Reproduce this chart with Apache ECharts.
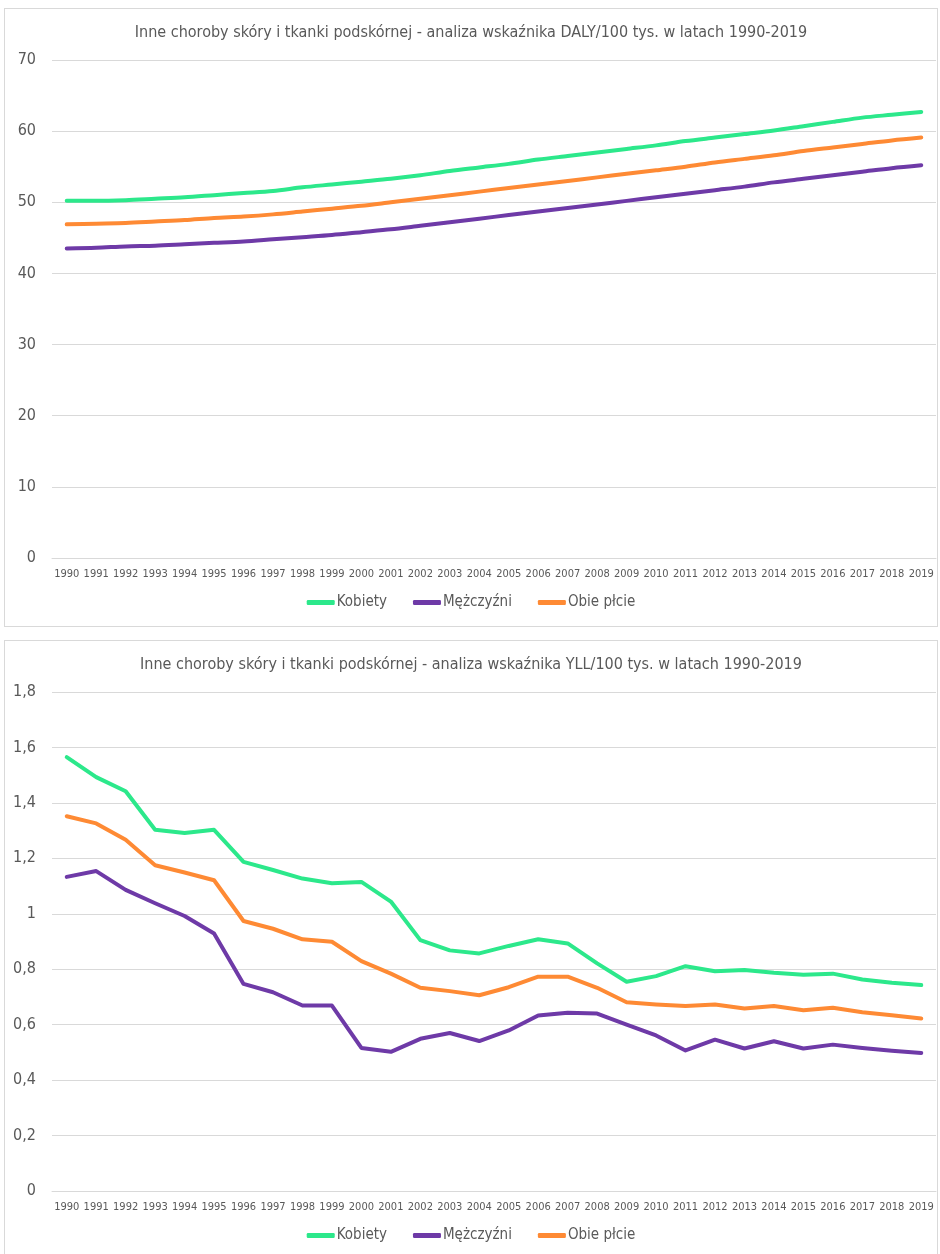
<!DOCTYPE html>
<html>
<head>
<meta charset="utf-8">
<script src="https://cdn.jsdelivr.net/npm/echarts@6/dist/echarts.min.js"></script>
<style>
body { margin: 0; background: #fff; }
.box {
  position: absolute;
  left: 4px;
  width: 934px;
  box-sizing: border-box;
  border: 1px solid #d9d9d9;
  background: #fff;
}
#dalyBox { top: 8px; height: 619px; }
#yllBox { top: 640px; height: 620px; }
</style>
</head>
<body>
<div id="dalyBox" class="box"></div>
<div id="yllBox" class="box"></div>
<script>
// lata
const years = ['1990', '1991', '1992', '1993', '1994', '1995', '1996', '1997', '1998', '1999',
  '2000', '2001', '2002', '2003', '2004', '2005', '2006', '2007', '2008', '2009',
  '2010', '2011', '2012', '2013', '2014', '2015', '2016', '2017', '2018', '2019']

// DALY/100 tys.
const dalyKobiety = [50.2, 50.2, 50.3, 50.5, 50.7, 51.0, 51.3, 51.6, 52.1, 52.5,
  52.9, 53.3, 53.8, 54.4, 54.9, 55.4, 56.0, 56.5, 57.0, 57.5,
  58.0, 58.6, 59.1, 59.6, 60.1, 60.7, 61.3, 61.9, 62.3, 62.7]
const dalyMezczyzni = [43.5, 43.6, 43.8, 43.9, 44.1, 44.3, 44.5, 44.8, 45.1, 45.4,
  45.8, 46.2, 46.7, 47.2, 47.7, 48.2, 48.7, 49.2, 49.7, 50.2,
  50.7, 51.2, 51.7, 52.2, 52.8, 53.3, 53.8, 54.3, 54.8, 55.2]
const dalyObie = [46.9, 47.0, 47.1, 47.3, 47.5, 47.8, 48.0, 48.3, 48.7, 49.1,
  49.5, 50.0, 50.5, 51.0, 51.5, 52.0, 52.5, 53.0, 53.5, 54.0,
  54.5, 55.0, 55.6, 56.1, 56.6, 57.2, 57.7, 58.2, 58.7, 59.1]

// YLL/100 tys.
const yllKobiety = [1.565, 1.493, 1.442, 1.303, 1.291, 1.303, 1.187, 1.158, 1.127, 1.110,
  1.115, 1.044, 0.905, 0.868, 0.857, 0.884, 0.908, 0.893, 0.821, 0.755,
  0.775, 0.811, 0.793, 0.797, 0.787, 0.780, 0.784, 0.763, 0.751, 0.743]
const yllMezczyzni = [1.133, 1.154, 1.086, 1.038, 0.992, 0.929, 0.747, 0.717, 0.669, 0.669,
  0.516, 0.502, 0.549, 0.570, 0.541, 0.579, 0.633, 0.643, 0.640, 0.600,
  0.561, 0.507, 0.546, 0.514, 0.540, 0.514, 0.528, 0.516, 0.506, 0.498]
const yllObie = [1.352, 1.326, 1.267, 1.175, 1.149, 1.121, 0.974, 0.946, 0.908, 0.899,
  0.829, 0.784, 0.733, 0.721, 0.706, 0.735, 0.773, 0.773, 0.733, 0.681,
  0.673, 0.667, 0.673, 0.658, 0.667, 0.652, 0.661, 0.645, 0.634, 0.622]

const seriesNames = ['Kobiety', 'Mężczyźni', 'Obie płcie']
const colors = ['#2ce88b', '#6e3aa7', '#fe8a34']

const font = '"Liberation Sans Narrow", "DejaVu Sans Condensed", sans-serif'

function draw (id, title, data, yMax, yInterval, yFormat, smooth) {
  let myChart = echarts.init(document.getElementById(id))
  myChart.setOption({
    animation: false,
    color: colors,
    textStyle: { fontFamily: font },
    title: {
      text: title,
      left: 'center',
      top: 11,
      textStyle: { fontSize: 16, fontWeight: 'normal', color: '#595959', fontFamily: font }
    },
    grid: { left: 47, right: 1, top: 51, bottom: 68 },
    legend: {
      data: seriesNames,
      left: 'center',
      bottom: 11,
      icon: 'roundRect',
      itemWidth: 28,
      itemHeight: 5,
      itemGap: 26,
      textStyle: { fontSize: 15, color: '#595959', fontFamily: font, padding: [0, 0, 0, -3] }
    },
    xAxis: {
      type: 'category',
      data: years,
      boundaryGap: true,
      axisLine: { lineStyle: { color: '#d9d9d9' } },
      axisTick: { show: false },
      axisLabel: { interval: 0, fontSize: 11, color: '#595959', margin: 11, fontFamily: font }
    },
    yAxis: {
      type: 'value',
      min: 0,
      max: yMax,
      interval: yInterval,
      axisLine: { show: false },
      axisTick: { show: false },
      splitLine: { lineStyle: { color: '#d9d9d9' } },
      axisLabel: { fontSize: 16, color: '#595959', margin: 16, fontFamily: font, formatter: yFormat }
    },
    series: data.map((values, i) => ({
      name: seriesNames[i],
      type: 'line',
      smooth: smooth,
      symbol: 'none',
      data: values,
      lineStyle: { width: 4, cap: 'round', join: 'round' }
    }))
  })
}

draw('dalyBox',
  'Inne choroby skóry i tkanki podskórnej - analiza wskaźnika DALY/100 tys. w latach 1990-2019',
  [dalyKobiety, dalyMezczyzni, dalyObie], 70, 10, v => String(v), 0.3)

draw('yllBox',
  'Inne choroby skóry i tkanki podskórnej - analiza wskaźnika YLL/100 tys. w latach 1990-2019',
  [yllKobiety, yllMezczyzni, yllObie], 1.8, 0.2, v => String(Math.round(v * 10) / 10).replace('.', ','), false)
</script>
</body>
</html>
